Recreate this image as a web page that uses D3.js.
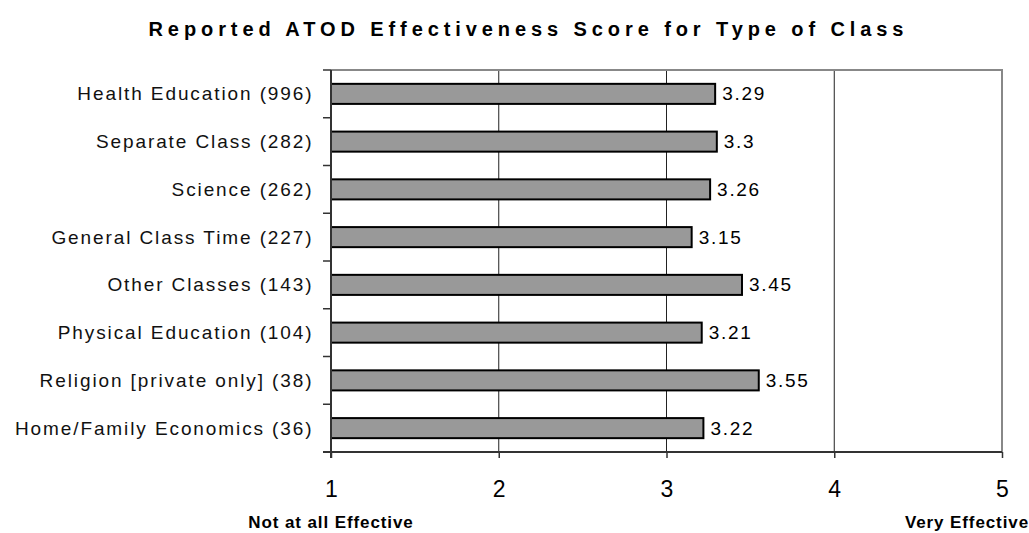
<!DOCTYPE html>
<html>
<head>
<meta charset="utf-8">
<script src="https://cdn.jsdelivr.net/npm/d3@7"></script>
<style>
  html, body { margin: 0; padding: 0; background: #fff; }
  svg { display: block; font-family: "Liberation Sans", Arial, sans-serif; }
</style>
</head>
<body>
<svg id="chart" width="1029" height="533"></svg>
<script>
const title = "Reported ATOD Effectiveness Score for Type of Class";
const categories = [
  "Health Education (996)",
  "Separate Class (282)",
  "Science (262)",
  "General Class Time (227)",
  "Other Classes (143)",
  "Physical Education (104)",
  "Religion [private only] (38)",
  "Home/Family Economics (36)"
];
const values = [3.29, 3.3, 3.26, 3.15, 3.45, 3.21, 3.55, 3.22];
const valueLabels = ["3.29", "3.3", "3.26", "3.15", "3.45", "3.21", "3.55", "3.22"];
const xTicks = [1, 2, 3, 4, 5];
const gridTicks = [2, 3, 4];
const axisEndLabels = ["Not at all Effective", "Very Effective"];

const svg = d3.select("#chart");
const pLeft = 331, pRight = 1002, pTop = 70, pBottom = 452;

const x = d3.scaleLinear().domain([1, 5]).range([pLeft, pRight]);
const y = d3.scaleBand().domain(categories).range([pTop, pBottom])
  .paddingInner(0.58).paddingOuter(0.29);
const step = y.step();

// Title
svg.append("text")
  .attr("x", 526).attr("y", 36)
  .attr("text-anchor", "middle")
  .attr("font-weight", "bold").attr("font-size", 20)
  .attr("textLength", 755).attr("lengthAdjust", "spacing")
  .text(title);

// Grid lines
svg.append("g").selectAll("line").data(gridTicks).join("line")
  .attr("x1", d => x(d)).attr("x2", d => x(d))
  .attr("y1", pTop).attr("y2", pBottom)
  .attr("stroke", "#222").attr("stroke-width", 1);

// Plot border (top and right)
svg.append("path")
  .attr("d", `M${pLeft},${pTop}H${pRight}V${pBottom}`)
  .attr("fill", "none").attr("stroke", "#888").attr("stroke-width", 2);

// Bars
svg.append("g").selectAll("rect").data(categories).join("rect")
  .attr("x", x(1))
  .attr("y", d => y(d))
  .attr("width", (d, i) => x(values[i]) - x(1))
  .attr("height", y.bandwidth())
  .attr("fill", "#999999")
  .attr("stroke", "#000").attr("stroke-width", 2);

// Value labels
svg.append("g").selectAll("text").data(categories).join("text")
  .attr("x", (d, i) => x(values[i]) + 7)
  .attr("y", d => y(d) + y.bandwidth() / 2 + 6.5)
  .attr("font-size", 19).attr("letter-spacing", 1.7)
  .attr("fill", "#000")
  .text((d, i) => valueLabels[i]);

// Left axis
const gl = svg.append("g");
gl.append("line").attr("x1", pLeft).attr("x2", pLeft).attr("y1", pTop).attr("y2", pBottom + 6)
  .attr("stroke", "#333").attr("stroke-width", 2);
gl.selectAll("line.tk").data(d3.range(categories.length + 1)).join("line").attr("class", "tk")
  .attr("x1", pLeft - 8).attr("x2", pLeft)
  .attr("y1", i => pTop + i * step).attr("y2", i => pTop + i * step)
  .attr("stroke", "#333").attr("stroke-width", 1.5);
gl.selectAll("text").data(categories).join("text")
  .attr("x", 313.5)
  .attr("y", d => y(d) + y.bandwidth() / 2 + 6.5)
  .attr("text-anchor", "end")
  .attr("font-size", 19).attr("letter-spacing", 1.9)
  .attr("fill", "#111")
  .text(d => d);

// Bottom axis
const xAxis = d3.axisBottom(x).tickValues(xTicks).tickSize(6).tickFormat(d3.format("d"));
const gb = svg.append("g").attr("transform", `translate(0,${pBottom})`).call(xAxis);
gb.select(".domain").attr("d", `M${pLeft - 8},0H${pRight}`).attr("stroke", "#333").attr("stroke-width", 2);
gb.selectAll(".tick line").attr("stroke", "#333").attr("stroke-width", 1.5);
gb.selectAll(".tick text")
  .attr("y", 45).attr("dy", 0)
  .attr("font-family", "'Liberation Sans Narrow', 'Liberation Sans', Arial, sans-serif")
  .attr("font-size", 23).attr("fill", "#000");

// Axis end labels
svg.append("text")
  .attr("x", x(1)).attr("y", 528)
  .attr("text-anchor", "middle")
  .attr("font-weight", "bold").attr("font-size", 17).attr("letter-spacing", 0.9)
  .text(axisEndLabels[0]);
svg.append("text")
  .attr("x", 1029).attr("y", 528)
  .attr("text-anchor", "end")
  .attr("font-weight", "bold").attr("font-size", 17).attr("letter-spacing", 0.9)
  .text(axisEndLabels[1]);
</script>
</body>
</html>
